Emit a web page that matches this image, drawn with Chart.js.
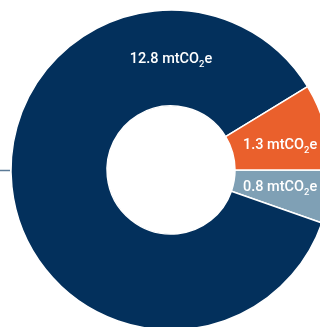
<!DOCTYPE html>
<html lang="en">
<head>
  <meta charset="UTF-8">
  <title>Emissions doughnut</title>
  <script src="https://cdn.jsdelivr.net/npm/chart.js"></script>
  <style>
    html, body { margin: 0; padding: 0; background: #fff; overflow: hidden; }
    .wrap { width: 342px; height: 340px; }
  </style>
</head>
<body>
  <div class="wrap"><canvas id="grafico" width="342" height="340"></canvas></div>

  <script>
    // values in mtCO2e
    const categories = ['Category A', 'Category B', 'Category C'];
    const values = [0.8, 12.8, 1.3];
    const colors = ['#7fa0b5', '#03305c', '#ea602c'];
    const unit = 'mtCO';

    // white labels with a subscript 2
    function drawLabel(ctx, value, x, y, align) {
      const big = '500 14.5px Roboto, "Liberation Sans", sans-serif';
      const small = '500 9.5px Roboto, "Liberation Sans", sans-serif';
      const a = value.toFixed(1) + ' ' + unit;
      ctx.font = big;
      const wa = ctx.measureText(a).width;
      const we = ctx.measureText('e').width;
      ctx.font = small;
      const w2 = ctx.measureText('2').width;
      let left = align === 'left' ? x : x - (wa + w2 + we) / 2;
      ctx.fillStyle = '#fff';
      ctx.textBaseline = 'alphabetic';
      ctx.textAlign = 'left';
      ctx.font = big;
      ctx.fillText(a, left, y + 5);
      ctx.font = small;
      ctx.fillText('2', left + wa, y + 9);
      ctx.font = big;
      ctx.fillText('e', left + wa + w2, y + 5);
    }

    const labelPlugin = {
      id: 'labels',
      afterDatasetsDraw(chart) {
        const ctx = chart.ctx;
        const arcs = chart.getDatasetMeta(0).data;
        ctx.save();
        arcs.forEach((arc, i) => {
          const mid = (arc.innerRadius + arc.outerRadius) / 2;
          if (values[i] === Math.max(...values)) {
            drawLabel(ctx, values[i], arc.x, arc.y - mid, 'center');
          } else {
            const ang = (arc.startAngle + arc.endAngle) / 2;
            drawLabel(ctx, values[i], arc.x + arc.innerRadius + 8, arc.y + Math.sin(ang) * mid * 0.85, 'left');
          }
        });
        // leader line on the left
        const a0 = arcs[0];
        ctx.strokeStyle = '#5b7a96';
        ctx.lineWidth = 1.5;
        ctx.beginPath();
        ctx.moveTo(0, a0.y + 0.5);
        ctx.lineTo(a0.x - a0.outerRadius - 1, a0.y + 0.5);
        ctx.stroke();
        ctx.restore();
      }
    };

    const ctx = document.getElementById('grafico').getContext('2d');
    const chart = new Chart(ctx, {
      type: 'doughnut',
      data: {
        labels: categories,
        datasets: [{
          data: values,
          backgroundColor: colors,
          borderColor: '#ffffff',
          borderWidth: 1.5,
          radius: 160,
          cutout: '40%'
        }]
      },
      options: {
        responsive: false,
        animation: false,
        rotation: 90,
        layout: { padding: { left: 11, right: 11, top: 10, bottom: 10 } },
        plugins: { legend: { display: false }, tooltip: { enabled: false } }
      },
      plugins: [labelPlugin]
    });
  </script>
</body>
</html>
